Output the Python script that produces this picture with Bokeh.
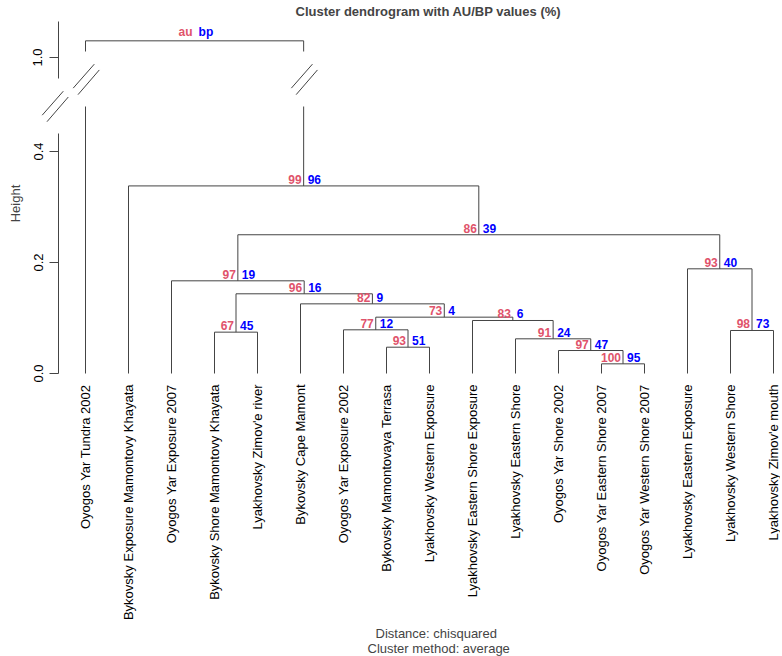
import math
from bokeh.plotting import figure
from bokeh.models import ColumnDataSource, FixedTicker, Range1d, Title
from bokeh.core.properties import value
from bokeh.embed import file_html
from bokeh.resources import INLINE

# ---------------- data ----------------
leaf_labels = [
    "Oyogos Yar Tundra 2002",
    "Bykovsky Exposure Mamontovy Khayata",
    "Oyogos Yar Exposure 2007",
    "Bykovsky Shore Mamontovy Khayata",
    "Lyakhovsky Zimov'e river",
    "Bykovsky Cape Mamont",
    "Oyogos Yar Exposure 2002",
    "Bykovsky Mamontovaya Terrasa",
    "Lyakhovsky Western Exposure",
    "Lyakhovsky Eastern Shore Exposure",
    "Lyakhovsky Eastern Shore",
    "Oyogos Yar Shore 2002",
    "Oyogos Yar Eastern Shore 2007",
    "Oyogos Yar Western Shore 2007",
    "Lyakhovsky Eastern Exposure",
    "Lyakhovsky Western Shore",
    "Lyakhovsky Zimov'e mouth",
]
# merge table (R hclust style): negative = leaf number, positive = earlier merge row
merge_left = [-13, -12, -8, -11, -4, -16, -7, -10, 7, -6, 5, -3, -15, 12, -2, -1]
merge_right = [-14, 1, -9, 2, -5, -17, 3, 4, 8, 9, 10, 11, 6, 13, 14, 15]
merge_height = [0.0174, 0.0414, 0.0474, 0.0625, 0.0745, 0.0775, 0.0787, 0.0955,
                0.1015, 0.1255, 0.1436, 0.167, 0.1886, 0.250, 0.338, 1.03]
au_values = ["100", "97", "93", "91", "67", "98", "77", "83", "73", "82", "96", "97", "93", "86", "99", "au"]
bp_values = ["95", "47", "51", "24", "45", "73", "12", "6", "4", "9", "16", "19", "40", "39", "96", "bp"]

y_tick_values = [0.0, 0.2, 0.4, 1.0]
y_tick_labels = ["0.0", "0.2", "0.4", "1.0"]

# ---------------- layout / broken axis settings ----------------
PX_X = 43.0     # pixels per leaf step
PX_Y = 555.0    # pixels per height unit
FRAME_W = 780
FRAME_TOP, ZERO_PX, FRAME_BOTTOM = 18, 372, 386

BREAK_AT = 0.5          # heights above this are drawn in the upper (shifted) section
UPPER_SHIFT = 0.4306    # shift applied to the upper section


def ypx(px):
    """plot units for a vertical pixel position"""
    return (ZERO_PX - px) / PX_Y


GAP_LO, GAP_HI = ypx(105), ypx(50)          # gap in broken branches
AXIS_GAP_LO, AXIS_GAP_HI = ypx(132), ypx(77)
AXIS_TOP = ypx(20)
MARK_Y_BRANCH = ypx(77.65)
MARK_Y_AXIS = ypx(104.7)

X0 = 1 - 85 / PX_X          # frame left edge
AXIS_X = 1 - 27 / PX_X      # where the y axis sits
X1 = X0 + FRAME_W / PX_X
Y0, Y1 = ypx(FRAME_BOTTOM), ypx(FRAME_TOP)

EDGE = "#444444"
AU_COL = "#DF536B"
BP_COL = "#0000FF"
FONT = "Liberation Sans"


def tf(h):
    return h if h <= BREAK_AT else h - UPPER_SHIFT


# ---------------- compute dendrogram geometry ----------------
node_x = {}


def cx(c):
    return float(-c) if c < 0 else node_x[c]


def ch(c):
    return 0.0 if c < 0 else merge_height[c - 1]


seg = dict(x0=[], y0=[], x1=[], y1=[])
breaks = []


def add_seg(d, a, b, c, e):
    d["x0"].append(a); d["y0"].append(b); d["x1"].append(c); d["y1"].append(e)


lab_x, lab_y = [], []
for i in range(len(merge_height)):
    l, r, h = merge_left[i], merge_right[i], merge_height[i]
    xl, xr = cx(l), cx(r)
    node_x[i + 1] = (xl + xr) / 2
    yh = tf(h)
    add_seg(seg, xl, yh, xr, yh)
    for c in (l, r):
        xc, hc = cx(c), ch(c)
        if hc <= BREAK_AT < h:
            add_seg(seg, xc, tf(hc), xc, GAP_LO)
            add_seg(seg, xc, GAP_HI, xc, yh)
            breaks.append((xc, MARK_Y_BRANCH))
        else:
            add_seg(seg, xc, tf(hc), xc, yh)
    lab_x.append(node_x[i + 1])
    lab_y.append(yh)

# broken y-axis line
axl = dict(x0=[], y0=[], x1=[], y1=[])
add_seg(axl, AXIS_X, 0.0, AXIS_X, AXIS_GAP_LO)
add_seg(axl, AXIS_X, AXIS_GAP_HI, AXIS_X, AXIS_TOP)
breaks.append((AXIS_X - 4 / PX_X, MARK_Y_AXIS))

# break marks shape (pixel offsets)
MARK = [((-12.3, 9.0), (8.8, -15.0)), ((-7.5, 15.5), (13.8, -9.2))]
mk = dict(x0=[], y0=[], x1=[], y1=[])
for bx, by0 in breaks:
    for (ax, ay), (bx2, by) in MARK:
        add_seg(mk, bx + ax / PX_X, by0 - ay / PX_Y, bx + bx2 / PX_X, by0 - by / PX_Y)

# ---------------- figure ----------------
p = figure(frame_width=FRAME_W, frame_height=FRAME_BOTTOM - FRAME_TOP,
           x_range=Range1d(X0, X1), y_range=Range1d(Y0, Y1),
           output_backend="svg", toolbar_location=None,
           min_border_left=0, min_border_right=0,
           min_border_top=FRAME_TOP, min_border_bottom=270,
           background_fill_color="white", border_fill_color="white")
p.outline_line_color = None
p.grid.visible = False

for d in (seg, mk, axl):
    p.segment(x0="x0", y0="y0", x1="x1", y1="y1", source=ColumnDataSource(d),
              line_color=EDGE, line_width=1)

src_lab = ColumnDataSource(dict(x=lab_x, y=lab_y, au=au_values, bp=bp_values))
p.text(x="x", y="y", text="au", source=src_lab, text_color=AU_COL,
       text_font=value(FONT), text_font_style="bold", text_font_size="12px",
       text_align="right", text_baseline="bottom", x_offset=-2, y_offset=-2)
p.text(x="x", y="y", text="bp", source=src_lab, text_color=BP_COL,
       text_font=value(FONT), text_font_style="bold", text_font_size="12px",
       text_align="left", text_baseline="bottom", x_offset=4, y_offset=-2)

# y axis (placed at AXIS_X inside the frame)
yt = [tf(v) for v in y_tick_values]
ya = p.yaxis[0]
ya.fixed_location = AXIS_X
ya.ticker = FixedTicker(ticks=yt)
ya.major_label_overrides = {t: s for t, s in zip(yt, y_tick_labels)}
ya.minor_tick_line_color = None
ya.axis_line_color = None
ya.major_tick_line_color = EDGE
ya.major_tick_out = 9
ya.major_tick_in = 0
ya.major_label_orientation = "vertical"
ya.major_label_standoff = 7
ya.major_label_text_font = FONT
ya.major_label_text_font_size = "13px"
ya.major_label_text_color = "black"
ya.axis_label = "Height"
ya.axis_label_text_font = FONT
ya.axis_label_text_font_size = "13px"
ya.axis_label_text_font_style = "normal"
ya.axis_label_standoff = 8

# x axis with leaf labels
xa = p.xaxis[0]
xa.ticker = FixedTicker(ticks=list(range(1, len(leaf_labels) + 1)))
xa.major_label_overrides = {i + 1: s for i, s in enumerate(leaf_labels)}
xa.axis_line_color = None
xa.major_tick_line_color = None
xa.minor_tick_line_color = None
xa.major_tick_out = 0
xa.major_tick_in = 0
xa.major_label_standoff = 383 - FRAME_BOTTOM
xa.major_label_orientation = math.pi / 2
xa.major_label_text_font = FONT
xa.major_label_text_font_size = "13px"
xa.major_label_text_color = "black"

p.title.text = "Cluster dendrogram with AU/BP values (%)"
p.title.align = "left"
p.title.offset = 295
p.title.text_font = FONT
p.title.text_font_size = "13px"
p.title.text_font_style = "bold"
p.title.standoff = 2

for txt, off, so in (("Distance:  chisquared", 375, 0), ("Cluster method: average", 367, -4)):
    p.add_layout(Title(text=txt, align="left", offset=off, text_font=FONT,
                       text_font_size="13px", text_font_style="normal", standoff=so), "below")

open("out.html", "w").write(file_html(p, INLINE))
